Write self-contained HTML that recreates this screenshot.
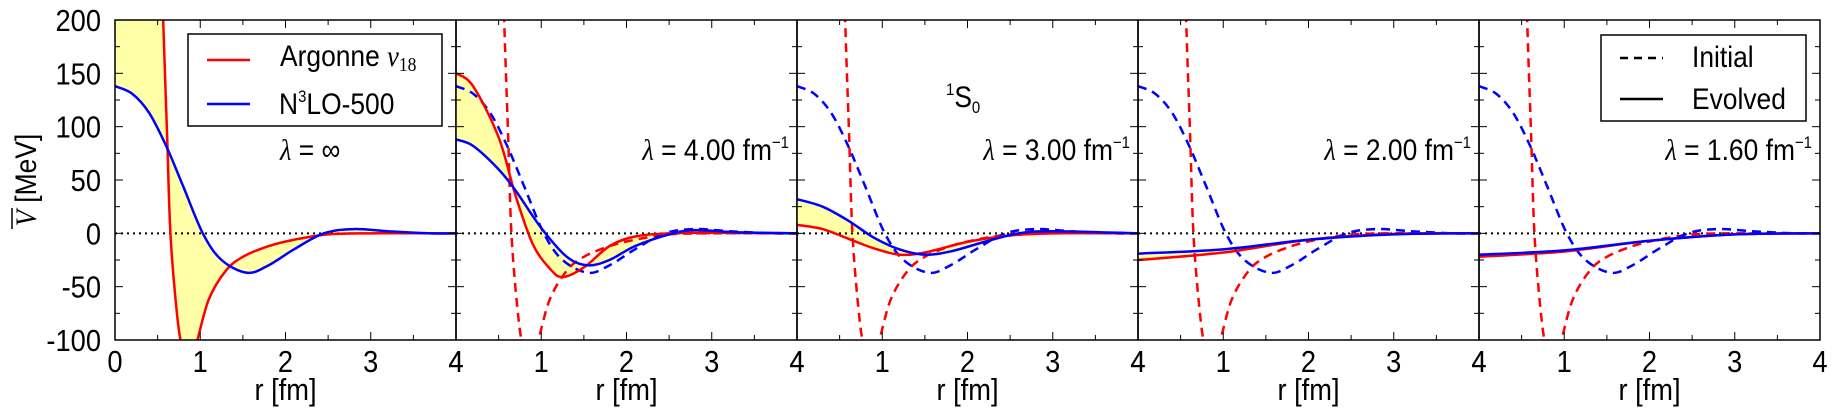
<!DOCTYPE html>
<html><head><meta charset="utf-8"><style>
body{margin:0;background:#fff;width:1837px;height:415px;overflow:hidden}
svg text{font-family:"Liberation Sans",sans-serif;fill:#000}
</style></head><body>
<svg id="s" width="1837" height="415" xmlns="http://www.w3.org/2000/svg"></svg>
<script>
const S=document.getElementById('s');
const T=20,B=340,W=341,X0=115;
const ys=v=>233.33-v*320/300;
function tx(x,y,a,sz,c){return `<text transform="translate(${x},${y}) scale(0.88,1)" text-anchor="${a}" font-size="${sz}">${c}</text>`;}
let h='<defs>';
for(let p=0;p<5;p++)h+=`<clipPath id="c${p}"><rect x="${X0+p*W}" y="${T}" width="${W}" height="${B-T}"/></clipPath>`;
h+='</defs>';
function path(pts,p){const xs=r=>X0+p*W+r*W/4;const P=pts.map(a=>[xs(a[0]),ys(a[1])]);
 let d=`M${P[0][0]},${P[0][1]}`;for(let i=0;i<P.length-1;i++){const p0=P[Math.max(0,i-1)],p1=P[i],p2=P[i+1],p3=P[Math.min(P.length-1,i+2)];
 d+=` C${p1[0]+(p2[0]-p0[0])/6},${p1[1]+(p2[1]-p0[1])/6} ${p2[0]-(p3[0]-p1[0])/6},${p2[1]-(p3[1]-p1[1])/6} ${p2[0]},${p2[1]}`;}return d;}
const rI=[[0.5,380],[0.565,200],[0.61,95],[0.65,0],[0.72,-70],[0.78,-105],[0.87,-125],[0.96,-102],[1.1,-62],[1.3,-35],[1.5,-22],[1.8,-12],[2.1,-6],[2.5,-1],[3,0],[4,0]];
const bI=[[0,138],[0.2,131],[0.4,113],[0.6,82],[0.8,44],[1.03,0],[1.25,-25],[1.55,-37],[1.8,-30],[2.1,-15],[2.45,0],[2.8,4],[3.2,2],[3.7,0],[4,0]];
const ev=[null,
[[[0,150],[0.2,138],[0.5,90],[0.7,35],[0.9,-10],[1.1,-33],[1.25,-41],[1.5,-32],[1.8,-12],[2.1,-3],[2.5,0],[3,0.5],[4,0]],
 [[0,88],[0.2,82],[0.5,60],[0.7,40],[1.0,5],[1.3,-22],[1.55,-30],[1.8,-25],[2.1,-12],[2.5,-1],[2.8,3],[3.3,1],[4,0]]],
[[[0,8],[0.3,4],[0.6,-5],[0.9,-14],[1.2,-20],[1.5,-18],[2,-8],[2.5,-2],[3,0],[4,0]],
 [[0,32],[0.3,25],[0.6,12],[0.9,-4],[1.2,-15],[1.5,-20],[1.8,-17],[2.2,-8],[2.6,0],[3,2],[4,0]]],
[[[0,-25],[1,-18],[2,-6],[3,-0.5],[4,0]],[[0,-19],[1,-15],[2,-6],[3,-1],[4,0]]],
[[[0,-22],[1,-17],[2,-7],[3,-1],[4,0]],[[0,-20],[1,-16],[2,-7],[3,-1],[4,0]]]];
function rev(a){return a.slice().reverse();}
for(let p=0;p<5;p++){
 const x0=X0+p*W;
 let red,blue;
 if(p==0){red=[[0.3,1500],[0.45,600],...rI];blue=bI;}else{red=ev[p][0];blue=ev[p][1];}
 let fr=red,fb=blue;
 if(p==0){fr=[[0,1000],[0.4,800],...rI];}
 h+=`<g clip-path="url(#c${p})"><path d="${path(fr,p)} L${path(rev(fb),p).slice(1)} Z" fill="#ffffa8" stroke="none"/>`;
 h+=`<line x1="${x0}" x2="${x0+W}" y1="${ys(0)}" y2="${ys(0)}" stroke="#000" stroke-width="2" stroke-dasharray="2,4"/>`;
 if(p>0){h+=`<path d="${path([[0.3,1500],[0.45,600],...rI],p)}" fill="none" stroke="#f00" stroke-width="2.5" stroke-dasharray="9,6"/>`;
  h+=`<path d="${path(bI,p)}" fill="none" stroke="#00f" stroke-width="2.5" stroke-dasharray="9,6"/>`;}
 h+=`<path d="${path(red,p)}" fill="none" stroke="#f00" stroke-width="2.5"/><path d="${path(blue,p)}" fill="none" stroke="#00f" stroke-width="2.5"/></g>`;
 h+=`<rect x="${x0}" y="${T}" width="${W}" height="${B-T}" fill="none" stroke="#000" stroke-width="1.5"/>`;
 for(let r=0.5;r<4;r+=0.5){const x=x0+r*W/4,l=(r%1==0)?8:5;h+=`<line x1="${x}" x2="${x}" y1="${B}" y2="${B-l}" stroke="#000"/><line x1="${x}" x2="${x}" y1="${T}" y2="${T+l}" stroke="#000"/>`;}
 for(let v=-75;v<200;v+=25){const y=ys(v),l=(v%50==0)?8:5;h+=`<line x1="${x0}" x2="${x0+l}" y1="${y}" y2="${y}" stroke="#000"/><line x1="${x0+W}" x2="${x0+W-l}" y1="${y}" y2="${y}" stroke="#000"/>`;}
 const labs=p==0?[0,1,2,3,4]:[1,2,3,4];
 if(p>0)h+=tx(x0,372,"middle",31,"4");
 labs.forEach(r=>{h+=tx(x0+r*W/4,372,"middle",31,r);});
 h+=tx(x0+W/2,400,"middle",31,"r [fm]");
}
[200,150,100,50,0,-50,-100].forEach(v=>{h+=tx(101,ys(v)+11,"end",31,v);});
h+=`<text transform="translate(36,180) rotate(-90) scale(0.88,1)" font-size="30" text-anchor="middle"><tspan font-family="Liberation Serif" font-style="italic">V</tspan> [MeV]</text><line x1="12" x2="12" y1="229" y2="208" stroke="#000" stroke-width="1.5"/>`;
// legend 1
h+=`<rect x="188" y="34" width="254" height="92" fill="#fff" stroke="#000" stroke-width="1.5"/>`;
h+=`<line x1="207" x2="250" y1="60" y2="60" stroke="#f00" stroke-width="2.5"/><line x1="207" x2="250" y1="104" y2="104" stroke="#00f" stroke-width="2.5"/>`;
h+=tx(280,66,"start",30,`Argonne <tspan font-family="Liberation Serif" font-style="italic">v</tspan><tspan font-family="Liberation Serif" font-size="20" dy="5">18</tspan>`);
h+=tx(279,114,"start",30,`N<tspan font-size="17" dy="-12">3</tspan><tspan dy="12">LO-500</tspan>`);
h+=tx(280,160,"start",30,`<tspan font-family="Liberation Serif" font-style="italic">λ</tspan> = ∞`);
const lam=["4.00","3.00","2.00","1.60"];
lam.forEach((l,i)=>{const xr=X0+(i+2)*W-8;h+=tx(xr,160,"end",30,`<tspan font-family="Liberation Serif" font-style="italic">λ</tspan> = ${l} fm<tspan font-size="17" dy="-12">−1</tspan>`);});
h+=tx(946,107,"start",30,`<tspan font-size="17" dy="-12">1</tspan><tspan dy="12">S</tspan><tspan font-size="17" dy="6">0</tspan>`);
// legend 2
h+=`<rect x="1601" y="35" width="205" height="86" fill="#fff" stroke="#000" stroke-width="1.5"/>`;
h+=`<line x1="1620" x2="1663" y1="58" y2="58" stroke="#000" stroke-width="2.5" stroke-dasharray="8,6"/><line x1="1620" x2="1663" y1="99" y2="99" stroke="#000" stroke-width="2.5"/>`;
h+=tx(1692,67,"start",30,"Initial")+tx(1692,109,"start",30,"Evolved");
S.innerHTML=h;
</script>
</body></html>
